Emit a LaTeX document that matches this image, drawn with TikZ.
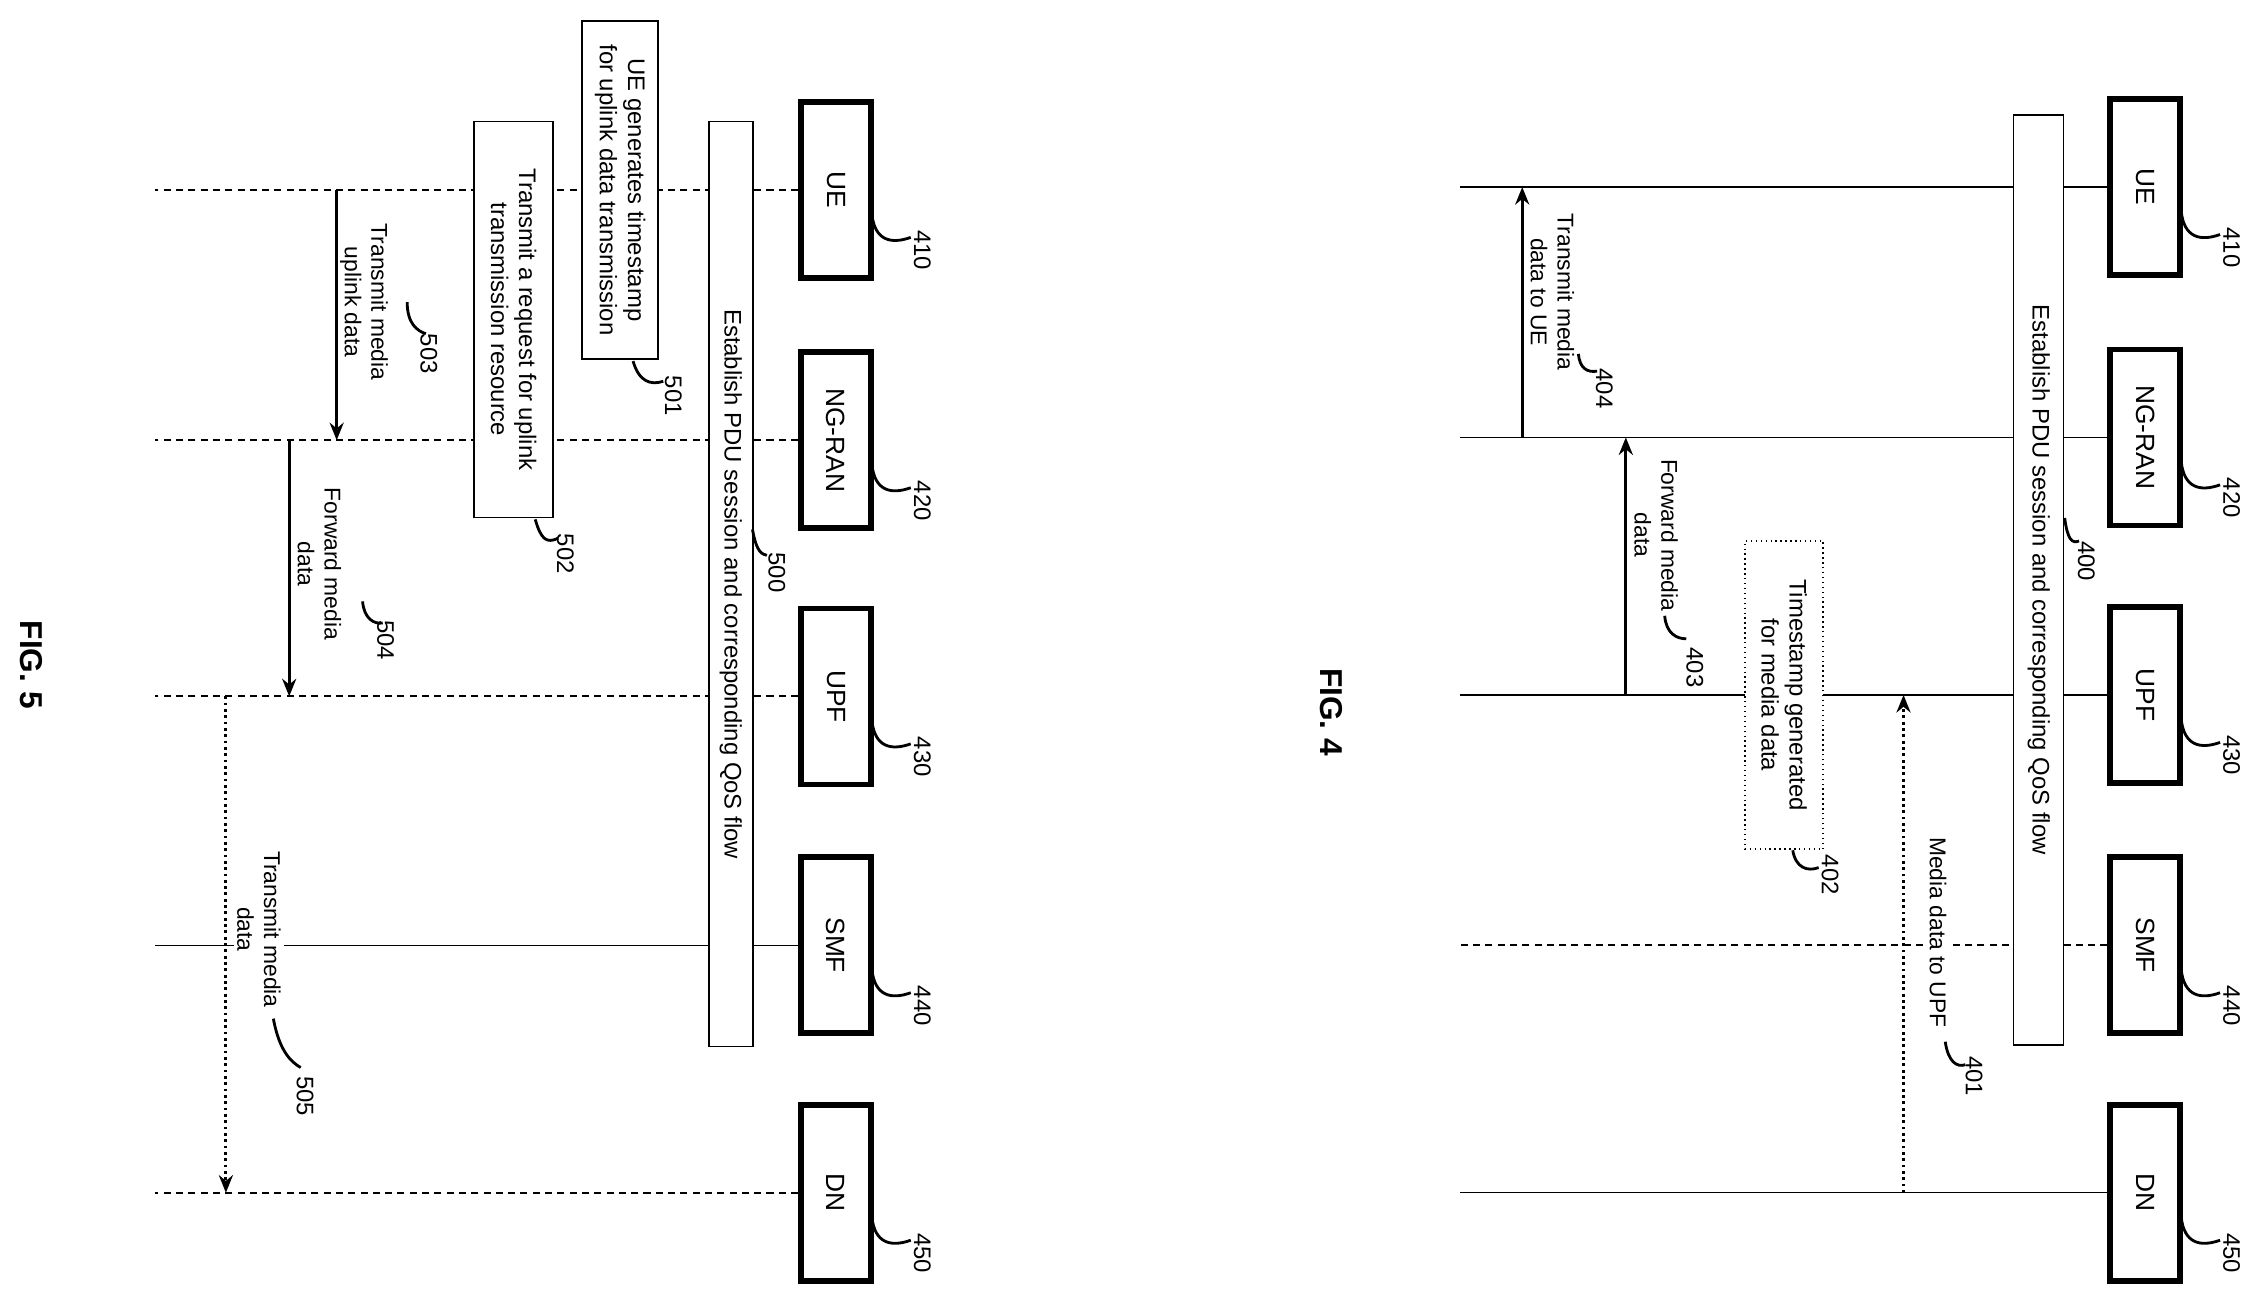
\documentclass[tikz,border=0pt]{standalone}
\usepackage{fontspec}
\setmainfont{Liberation Sans}
\usetikzlibrary{arrows.meta,positioning,calc}
\pgfdeclarelayer{bg}
\pgfsetlayers{bg,main}

\tikzset{
  ent/.style={draw,line width=1.6pt,fill=white,rotate=-90,minimum width=17.6mm,minimum height=7mm,font=\fontsize{7.5}{9}\selectfont},
  note/.style={draw,fill=white,rotate=-90,align=center,inner sep=1pt,font=\fontsize{6.8}{8}\selectfont},
  msg/.style={rotate=-90,align=center,inner sep=1pt,font=\fontsize{6.5}{7.6}\selectfont},
  num/.style={rotate=-90,font=\fontsize{6.8}{8}\selectfont},
  lead/.style={line width=0.8pt},
  life/.style={dash pattern=on 2pt off 1.5pt,line width=0.5pt},
  arr/.style={-{Stealth[length=5pt,width=4pt]},line width=0.8pt}
}

\begin{document}
\begin{tikzpicture}[x=0.14388mm,y=-0.14388mm]
  \useasboundingbox (0,0) rectangle (1568,907);

  % FIG. 5
  \node[ent] (ue5) at (581,132) {UE};
  \node[ent] (ran5) at (581,306) {NG-RAN};
  \node[ent] (upf5) at (581,484) {UPF};
  \node[ent] (smf5) at (581,657) {SMF};
  \node[ent] (dn5) at (581,829) {DN};
  \begin{pgfonlayer}{bg}
    \foreach \n in {ue5,ran5,upf5,dn5}
      \draw[life] (\n) -- (108,0 |- \n);
    \draw (smf5) -- (108,0 |- smf5);
  \end{pgfonlayer}
  \foreach \n/\t in {ue5/410,ran5/420,upf5/430,smf5/440,dn5/450} {
    \node[num] (n\t) at ($(\n)+(60,42)$) {\t};
    \draw[lead] ($(\n)+(25,17)$) .. controls ($(\n)+(27,35)$) and ($(\n)+(38,38)$) .. ($(\n)+(52,33)$);
  }
  \node[note,draw=black,minimum width=92.5mm,minimum height=4.4mm] (pdu5) at (508,406) {Establish PDU session and corresponding QoS flow};
  \node[num] (n500) at (540,398) {500};
  \draw[lead] (523,368) .. controls (526,385) and (530,385) .. (533,386);
  \node[note,minimum width=33.8mm,minimum height=7.6mm] (b501) at (431,132) {UE generates timestamp\\for uplink data transmission};
  \node[num] (n501) at (468,275) {501};
  \draw[lead] (440,251) .. controls (444,265) and (452,268) .. (461,265);
  \node[note,minimum width=39.6mm,minimum height=7.9mm] (b502) at (357,222) {Transmit a request for uplink\\transmission resource};
  \node[num] (n502) at (393,385) {502};
  \draw[lead] (372,361) .. controls (376,375) and (380,378) .. (388,374);

  \coordinate (x503) at (234,0);
  \coordinate (x504) at (201,0);
  \coordinate (x505) at (157,0);
  \draw[arr] (x503 |- ue5) -- (x503 |- ran5);
  \node[msg] (m503) at (253,210) {Transmit media\\uplink data};
  \node[num] (n503) at (298,246) {503};
  \draw[lead] (283,210) .. controls (283,225) and (290,230) .. (296,232);
  \draw[arr] (x504 |- ran5) -- (x504 |- upf5);
  \node[msg] (m504) at (222,392) {Forward media\\data};
  \node[num] (n504) at (268,445) {504};
  \draw[lead] (252,418) .. controls (253,430) and (260,434) .. (266,433);
  \draw[arr,densely dotted] (x505 |- upf5) -- (x505 |- dn5);
  \node[msg,fill=white] (m505) at (180,646) {Transmit media\\data};
  \node[num] (n505) at (212,762) {505};
  \draw[lead] (190,708) .. controls (194,730) and (202,738) .. (209,742);

  \node[rotate=-90,font=\bfseries\fontsize{9}{10}\selectfont] (fig5) at (22,462) {FIG. 5};

  % FIG. 4
  \node[ent] (ue4) at (1491,130) {UE};
  \node[ent] (ran4) at (1491,304) {NG-RAN};
  \node[ent] (upf4) at (1491,483) {UPF};
  \node[ent] (smf4) at (1491,657) {SMF};
  \node[ent] (dn4) at (1491,829) {DN};
  \begin{pgfonlayer}{bg}
    \foreach \n in {ue4,ran4,upf4,dn4}
      \draw (\n) -- (1015,0 |- \n);
    \draw[life] (smf4) -- (1015,0 |- smf4);
  \end{pgfonlayer}
  \foreach \n/\t in {ue4/410,ran4/420,upf4/430,smf4/440,dn4/450} {
    \node[num] (m\t) at ($(\n)+(60,42)$) {\t};
    \draw[lead] ($(\n)+(25,17)$) .. controls ($(\n)+(27,35)$) and ($(\n)+(38,38)$) .. ($(\n)+(52,33)$);
  }
  \node[note,minimum width=93mm,minimum height=5mm] (pdu4) at (1417,403) {Establish PDU session and corresponding QoS flow};
  \node[num] (n400) at (1450,390) {400};
  \draw[lead] (1435,360) .. controls (1437,375) and (1440,378) .. (1445,376);
  \node[note,densely dotted,minimum width=30.8mm,minimum height=7.8mm] (b402) at (1240,483) {Timestamp generated\\for media data};
  \node[num] (n402) at (1272,608) {402};
  \draw[lead] (1246,591) .. controls (1248,603) and (1256,606) .. (1264,603);

  \coordinate (x401) at (1323,0);
  \coordinate (x403) at (1130,0);
  \coordinate (x404) at (1058,0);
  \draw[arr,densely dotted] (x401 |- dn4) -- (x401 |- upf4);
  \node[msg,fill=white] (m401) at (1347,648) {Media data to UPF};
  \node[num] (n401) at (1372,748) {401};
  \draw[lead] (1352,724) .. controls (1354,738) and (1360,742) .. (1366,740);
  \draw[arr] (x403 |- upf4) -- (x403 |- ran4);
  \node[msg] (m403) at (1151,372) {Forward media\\data};
  \node[num] (n403) at (1178,464) {403};
  \draw[lead] (1157,428) .. controls (1158,440) and (1165,444) .. (1172,444);
  \draw[arr] (x404 |- ran4) -- (x404 |- ue4);
  \node[msg] (m404) at (1079,203) {Transmit media\\data to UE};
  \node[num] (n404) at (1115,270) {404};
  \draw[lead] (1097,246) .. controls (1098,256) and (1103,259) .. (1110,258);

  \node[rotate=-90,font=\bfseries\fontsize{9}{10}\selectfont] (fig4) at (925,495) {FIG. 4};
\end{tikzpicture}
\end{document}
